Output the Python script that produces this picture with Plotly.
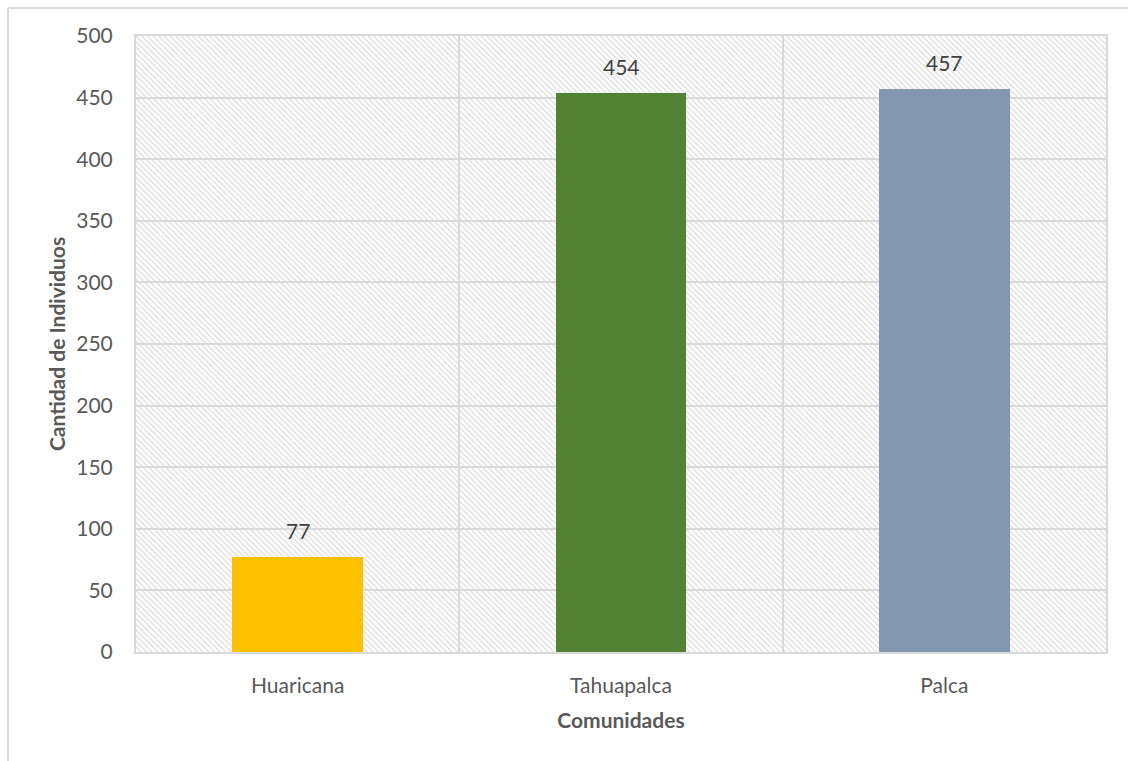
import plotly.graph_objects as go

# Individuals counted per community
comunidades = ["Huaricana", "Tahuapalca", "Palca"]
individuos = [77, 454, 457]
colores = ["#FFC000", "#548235", "#8497B0"]

y_max = 500
y_dtick = 50

font_family = "Lato, 'Open Sans', sans-serif"
text_grey = "#595959"
grid_grey = "#d9d9d9"

W, H = 1128, 761
L, R, T, B = 136, 22, 36, 109

fig = go.Figure()

# Hatched plot-area background (first subplot, drawn underneath)
fig.add_trace(go.Bar(
    x=[0.5], y=[y_max], width=[1.0],
    marker=dict(
        color="#d6d6d6",
        line=dict(width=0),
        pattern=dict(shape="\\", size=4, solidity=0.28,
                     fgcolor="#d6d6d6", bgcolor="white", fillmode="replace"),
    ),
    xaxis="x", yaxis="y", hoverinfo="skip", showlegend=False,
))

# Community bars (second subplot, grid drawn above hatch)
x_pos = list(range(len(comunidades)))
fig.add_trace(go.Bar(
    x=x_pos, y=individuos, width=0.404,
    marker=dict(color=colores, line=dict(width=0)),
    xaxis="x2", yaxis="y2", showlegend=False,
))

# Value labels above each bar
for xi, v in zip(x_pos, individuos):
    fig.add_annotation(
        x=xi, y=v, xref="x2", yref="y2", text=str(v), showarrow=False,
        yanchor="bottom", yshift=12,
        font=dict(family=font_family, size=21, color="#404040"),
    )

fig.update_layout(
    width=W, height=H,
    margin=dict(l=L, r=R, t=T, b=B),
    paper_bgcolor="white", plot_bgcolor="rgba(0,0,0,0)",
    font=dict(family=font_family, color=text_grey),
    bargap=0,
    xaxis=dict(range=[0, 1], visible=False, fixedrange=True),
    yaxis=dict(range=[0, y_max], visible=False, fixedrange=True),
    xaxis2=dict(
        range=[-0.5, len(comunidades) - 0.5],
        tickvals=x_pos, ticktext=comunidades,
        tickfont=dict(size=21, color=text_grey),
        showgrid=False, zeroline=False, ticks="", ticklabelstandoff=14,
        minor=dict(tick0=0.5, dtick=1, showgrid=True,
                   gridcolor=grid_grey, gridwidth=2, ticks=""),
        showline=True, linecolor=grid_grey, linewidth=2, mirror=True,
        title=dict(text="<b>Comunidades</b>", font=dict(size=21, color=text_grey),
                   standoff=17),
        anchor="y2",
    ),
    yaxis2=dict(
        range=[0, y_max], dtick=y_dtick, tick0=0,
        tickfont=dict(size=21, color=text_grey),
        showgrid=True, gridcolor=grid_grey, gridwidth=2,
        zeroline=False, ticks="", ticklabelstandoff=17,
        showline=True, linecolor=grid_grey, linewidth=2, mirror=True,
        title=dict(text="<b>Cantidad de Individuos</b>",
                   font=dict(size=21, color=text_grey), standoff=5),
        anchor="x2",
    ),
)

# Chart frame: left and top edges
pw, ph = W - L - R, H - T - B
fx = (8 - L) / pw
fy = (ph + T - 8) / ph
fig.add_shape(type="line", xref="paper", yref="paper",
              x0=fx, x1=fx, y0=fy, y1=-(B + 10) / ph,
              line=dict(color=grid_grey, width=2))
fig.add_shape(type="line", xref="paper", yref="paper",
              x0=fx, x1=(W + 10 - L) / pw, y0=fy, y1=fy,
              line=dict(color=grid_grey, width=2))

fig.write_html("out.html")
